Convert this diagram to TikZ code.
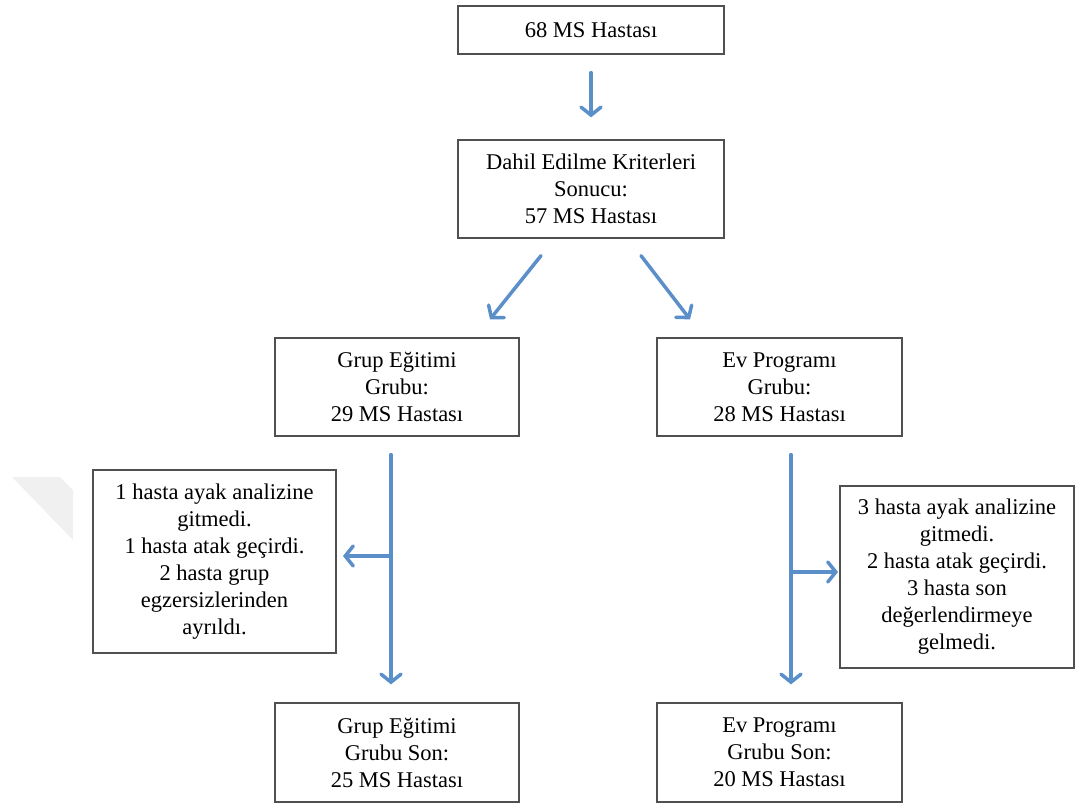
\documentclass[tikz,border=0pt]{standalone}
\usepackage{fontspec}
\setmainfont{Liberation Serif}
\usetikzlibrary{arrows.meta,calc}
\definecolor{arrblue}{RGB}{91,143,201}
\definecolor{boxline}{RGB}{80,80,80}
\tikzset{
  box/.style={draw=boxline, line width=1.3pt, fill=white, align=center, inner sep=0pt,
    font=\fontsize{22.5}{27}\selectfont},
  arr/.style={draw=arrblue, line width=3.5pt, line cap=round,
    -{Straight Barb[length=8pt,width=20pt,line cap=round]}}
}
\begin{document}
\begin{tikzpicture}[x=1pt,y=-1pt]
\useasboundingbox (0,0) rectangle (1076,806);
\fill[gray!12] (12,477) -- (60,477) -- (73,490) -- (73,540) -- cycle;

\node[box, minimum width=266pt, minimum height=48pt] (b1) at (591,30) {68 MS Hastası};
\node[box, minimum width=266pt, minimum height=98pt] (b2) at (591,189) {Dahil Edilme Kriterleri\\Sonucu:\\57 MS Hastası};
\node[box, minimum width=244pt, minimum height=98pt] (b3) at (397,387) {Grup Eğitimi\\Grubu:\\29 MS Hastası};
\node[box, minimum width=245pt, minimum height=98pt] (b4) at (779.5,387) {Ev Programı\\Grubu:\\28 MS Hastası};
\node[box, minimum width=244pt, minimum height=99pt] (b5) at (397,752.5) {Grup Eğitimi\\Grubu Son:\\25 MS Hastası};
\node[box, minimum width=245pt, minimum height=99pt] (b6) at (779.5,752.5) {Ev Programı\\Grubu Son:\\20 MS Hastası};
\node[box, minimum width=243pt, minimum height=183pt] (sl) at (214.5,561.5) {1 hasta ayak analizine\\gitmedi.\\1 hasta atak geçirdi.\\2 hasta grup\\egzersizlerinden\\ayrıldı.};
\node[box, minimum width=234pt, minimum height=182pt] (sr) at (957,577) {3 hasta ayak analizine\\gitmedi.\\2 hasta atak geçirdi.\\3 hasta son\\değerlendirmeye\\gelmedi.};

\coordinate (a1s) at ($(b1.south)+(0,18)$);
\coordinate (a1e) at ($(b2.north)+(0,-22)$);
\coordinate (a2s) at ($(b2.south)+(-50,17)$);
\coordinate (a2e) at ($(b3.north)+(93,-18)$);
\coordinate (a3s) at ($(b2.south)+(50,17)$);
\coordinate (a3e) at ($(b4.north)+(-89.5,-18)$);
\coordinate (lvs) at ($(b3.south)+(-6,18)$);
\coordinate (lve) at ($(b5.north)+(-6,-18)$);
\coordinate (rvs) at ($(b4.south)+(11.5,18)$);
\coordinate (rve) at ($(b6.north)+(11.5,-18)$);
\coordinate (lbr) at (391,556);
\coordinate (lbe) at (343,556);
\coordinate (rbr) at (791,572);
\coordinate (rbe) at (838,572);

\draw[arr] (a1s) -- (a1e);
\draw[arr] (a2s) -- (a2e);
\draw[arr] (a3s) -- (a3e);
\draw[arr] (lvs) -- (lve);
\draw[arr] (rvs) -- (rve);
\draw[arr] (lbr) -- (lbe);
\draw[arr] (rbr) -- (rbe);
\end{tikzpicture}
\end{document}
